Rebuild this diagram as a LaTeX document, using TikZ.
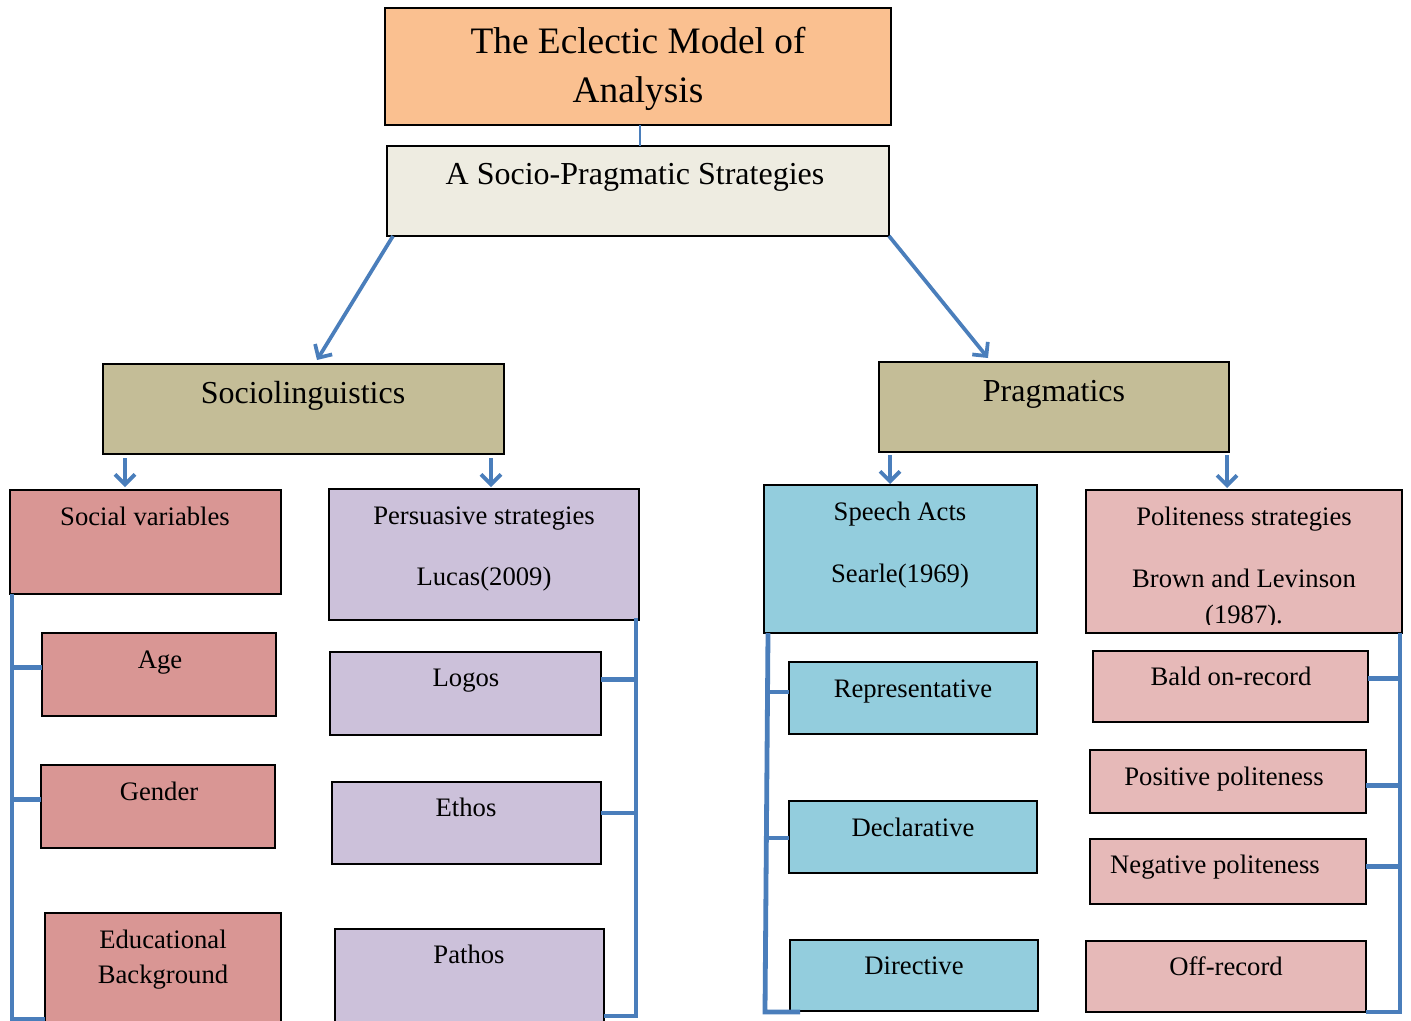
\documentclass[tikz,border=0pt]{standalone}
\usepackage{fontspec}
\setmainfont{Liberation Serif}
\usetikzlibrary{calc,arrows.meta}
\definecolor{cTitle}{HTML}{FAC090}
\definecolor{cSP}{HTML}{EEECE1}
\definecolor{cMain}{HTML}{C4BD97}
\definecolor{cRed}{HTML}{D99694}
\definecolor{cLil}{HTML}{CCC1DA}
\definecolor{cCyan}{HTML}{93CDDD}
\definecolor{cPink}{HTML}{E6B9B8}
\definecolor{cBlue}{HTML}{4A7EBB}
\newcommand{\mkbox}[6]{\node[boxst,fill=#6,minimum width={(#4-#2)*0.75pt},minimum height={(#5-#3)*0.75pt}] (#1) at ({(#2+#4)/2},{(#3+#5)/2}) {};}
\tikzset{
  boxst/.style={draw=black,line width=1.1pt,rectangle,inner sep=0pt,outer sep=0pt},
  txt/.style={anchor=base,inner sep=0pt,font=\fontsize{20}{24}\selectfont},
  bigtxt/.style={anchor=base,inner sep=0pt,font=\fontsize{24}{28}\selectfont},
  hugetxt/.style={anchor=base,inner sep=0pt,font=\fontsize{28}{34}\selectfont},
  arr/.style={draw=cBlue,line width=2.8pt,-{Straight Barb[length=7.5pt,width=15pt,line width=2.8pt]}},
  brk/.style={draw=cBlue,line width=3.6pt,line join=miter,line cap=butt},
  thin/.style={draw=cBlue,line width=1.1pt}
}
\begin{document}
\begin{tikzpicture}[x=0.75pt,y=-0.75pt]
\useasboundingbox (0,0) rectangle (1411,1021);
\clip (0,0) rectangle (1411,1021);
% boxes
\mkbox{title}{385}{8}{891}{125}{cTitle}
\mkbox{sp}{387}{146}{889}{236}{cSP}
\mkbox{soc}{103}{364}{504}{454}{cMain}
\mkbox{prag}{879}{362}{1229}{452}{cMain}
\mkbox{sv}{10}{490}{281}{594}{cRed}
\mkbox{pers}{329}{489}{639}{620}{cLil}
\mkbox{sa}{764}{485}{1037}{633}{cCyan}
\mkbox{pol}{1086}{490}{1402}{633}{cPink}
\mkbox{age}{42}{633}{276}{716}{cRed}
\mkbox{gen}{41}{765}{275}{848}{cRed}
\mkbox{edu}{45}{913}{281}{1045}{cRed}
\mkbox{logos}{330}{652}{601}{735}{cLil}
\mkbox{ethos}{332}{782}{601}{864}{cLil}
\mkbox{pathos}{335}{929}{604}{1045}{cLil}
\mkbox{rep}{789}{662}{1037}{734}{cCyan}
\mkbox{decl}{789}{801}{1037}{873}{cCyan}
\mkbox{dir}{790}{940}{1038}{1011}{cCyan}
\mkbox{bald}{1093}{651}{1368}{722}{cPink}
\mkbox{posp}{1090}{750}{1366}{813}{cPink}
\mkbox{negp}{1090}{839}{1366}{904}{cPink}
\mkbox{off}{1086}{941}{1366}{1012}{cPink}
% texts
\node[hugetxt] (t1) at (638,53) {The Eclectic Model of};
\node[hugetxt] (t2) at (638,102) {Analysis};
\node[bigtxt] (tsp) at (635,184) {A Socio-Pragmatic Strategies};
\node[bigtxt] (tsoc) at (303,403) {Sociolinguistics};
\node[bigtxt] (tprag) at (1054,401) {Pragmatics};
\node[txt] (tsv) at (145,525) {Social variables};
\node[txt] (tpers1) at (484,524) {Persuasive strategies};
\node[txt] (tpers2) at (484,585) {Lucas(2009)};
\node[txt] (tsa1) at (900,520) {Speech Acts};
\node[txt] (tsa2) at (900,582) {Searle(1969)};
\node[txt] (tpol1) at (1244,525) {Politeness strategies};
\node[txt] (tpol2) at (1244,587) {Brown and Levinson};
\begin{scope}
\clip (1090,595) rectangle (1400,624);
\node[txt] (tpol3) at (1244,623) {(1987).};
\end{scope}
\node[txt] (tage) at (160,668) {Age};
\node[txt] (tgen) at (159,800) {Gender};
\node[txt] (tedu1) at (163,948) {Educational};
\node[txt] (tedu2) at (163,983) {Background};
\node[txt] (tlog) at (466,686) {Logos};
\node[txt] (teth) at (466,816) {Ethos};
\node[txt] (tpat) at (469,963) {Pathos};
\node[txt] (trep) at (913,697) {Representative};
\node[txt] (tdecl) at (913,836) {Declarative};
\node[txt] (tdir) at (914,974) {Directive};
\node[txt] (tbald) at (1231,685) {Bald on-record};
\node[txt] (tposp) at (1224,785) {Positive politeness};
\node[txt] (tnegp) at (1215,873) {Negative politeness};
\node[txt] (toff) at (1226,975) {Off-record};
% connectors
\draw[thin] ($(title.south)+(2,0)$) -- ($(sp.north)+(2,0)$);
\draw[arr] ($(sp.south west)+(6,0)$) -- ($(soc.north west)+(214,-4)$);
\draw[arr] (sp.south east) -- ($(prag.north west)+(109,-4)$);
\draw[arr] ($(soc.south west)+(22,4)$) -- ($(sv.north west)+(115,-3)$);
\draw[arr] ($(soc.south west)+(388,4)$) -- ($(pers.north west)+(162,-2)$);
\draw[arr] ($(prag.south west)+(11,3)$) -- ($(sa.north west)+(126,-1)$);
\draw[arr] ($(prag.south east)+(-2,3)$) -- ($(pol.north west)+(141,-2)$);
% left bracket
\coordinate (La) at ($(sv.south west)+(2,0)$);
\coordinate (Lb) at (12,1019);
\draw[brk] (La) -- (Lb) -- (Lb -| edu.west);
\draw[brk] ($(age.west)+(0,-7)$) -- ($(age.west -| La)+(0,-7)$);
\draw[brk] ($(gen.west)+(0,-7)$) -- ($(gen.west -| La)+(0,-7)$);
% persuasive bracket
\coordinate (Pa) at ($(pers.south east)+(-3,-2)$);
\coordinate (Pb) at (636,1016);
\draw[brk] (Pa) -- (Pb) -- (Pb -| pathos.east);
\draw[brk] ($(logos.east)+(0,-14)$) -- ($(logos.east -| Pa)+(0,-14)$);
\draw[brk] ($(ethos.east)+(0,-10)$) -- ($(ethos.east -| Pa)+(0,-10)$);
% speech acts bracket
\coordinate (Sa) at ($(sa.south west)+(4,0)$);
\coordinate (Sb) at (765,1012);
\draw[brk] (Sa) -- (Sb) -- ($(dir.south west)+(10,1)$);
\draw[brk] ($(rep.west)+(0,-6)$) -- ($(rep.west)+(-22,-6)$);
\draw[brk] ($(decl.west)+(0,1)$) -- ($(decl.west)+(-23,1)$);
% politeness bracket
\coordinate (Ra) at ($(pol.south east)+(-2,0)$);
\coordinate (Rb) at (1400,1012);
\draw[brk] (Ra) -- (Rb) -- (Rb -| off.east);
\draw[brk] ($(bald.east)+(0,-8)$) -- ($(bald.east -| Ra)+(0,-8)$);
\draw[brk] ($(posp.east)+(0,4)$) -- ($(posp.east -| Ra)+(0,4)$);
\draw[brk] ($(negp.east)+(0,-5)$) -- ($(negp.east -| Ra)+(0,-5)$);
\end{tikzpicture}
\end{document}
